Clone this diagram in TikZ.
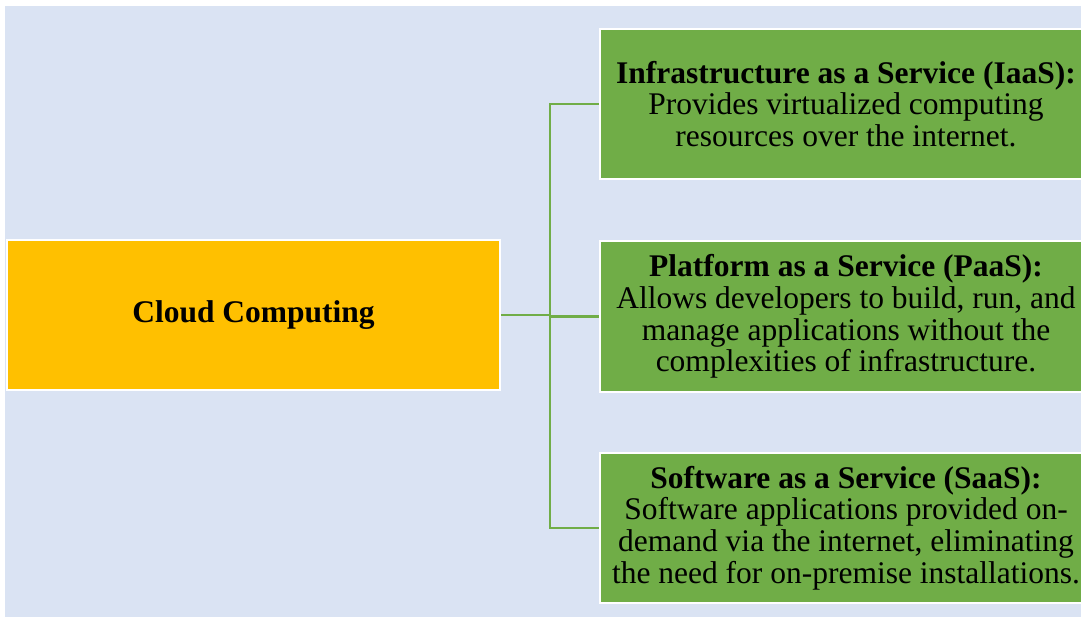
\documentclass[tikz,border=0pt]{standalone}
\usepackage{fontspec}
\setmainfont{Liberation Serif}
\usetikzlibrary{positioning}
\definecolor{bgblue}{HTML}{DAE3F3}
\definecolor{gold}{HTML}{FFC000}
\definecolor{leaf}{HTML}{70AD47}
\begin{document}
\begin{tikzpicture}[x=1pt,y=-1pt,
        rootbox/.style={fill=gold, draw=white, line width=2pt, minimum width=493pt, minimum height=150pt, inner sep=0pt, font=\fontsize{31.5}{32}\selectfont\bfseries},
        servicebox/.style={fill=leaf, draw=white, line width=2pt, minimum width=492pt, minimum height=150pt, inner sep=0pt, align=center, font=\fontsize{31.5}{31.8}\selectfont},
        branch/.style={draw=leaf, line width=2.5pt}
    ]
	\useasboundingbox (0,0) rectangle (1081,617);
	\fill[bgblue] (5,6) rectangle (1081,617);
	\node[rootbox] (cloud) at (253.5,315) {Cloud Computing};
	\node[servicebox] (iaas) at (846,104) {\textbf{Infrastructure as a Service (IaaS):}\\Provides virtualized computing\\resources over the internet.};
	\node[servicebox] (paas) at (846,316.5) {\textbf{Platform as a Service (PaaS):}\\Allows developers to build, run, and\\manage applications without the\\complexities of infrastructure.};
	\node[servicebox] (saas) at (846,528) {\textbf{Software as a Service (SaaS):}\\Software applications provided on-\\demand via the internet, eliminating\\the need for on-premise installations.};
	\coordinate (fork) at (550,315);
	\draw[branch] (cloud.east) -- (fork);
	\draw[branch] (fork) |- (iaas.west);
	\draw[branch] (fork) |- (paas.west);
	\draw[branch] (fork) |- (saas.west);
\end{tikzpicture}
\end{document}
